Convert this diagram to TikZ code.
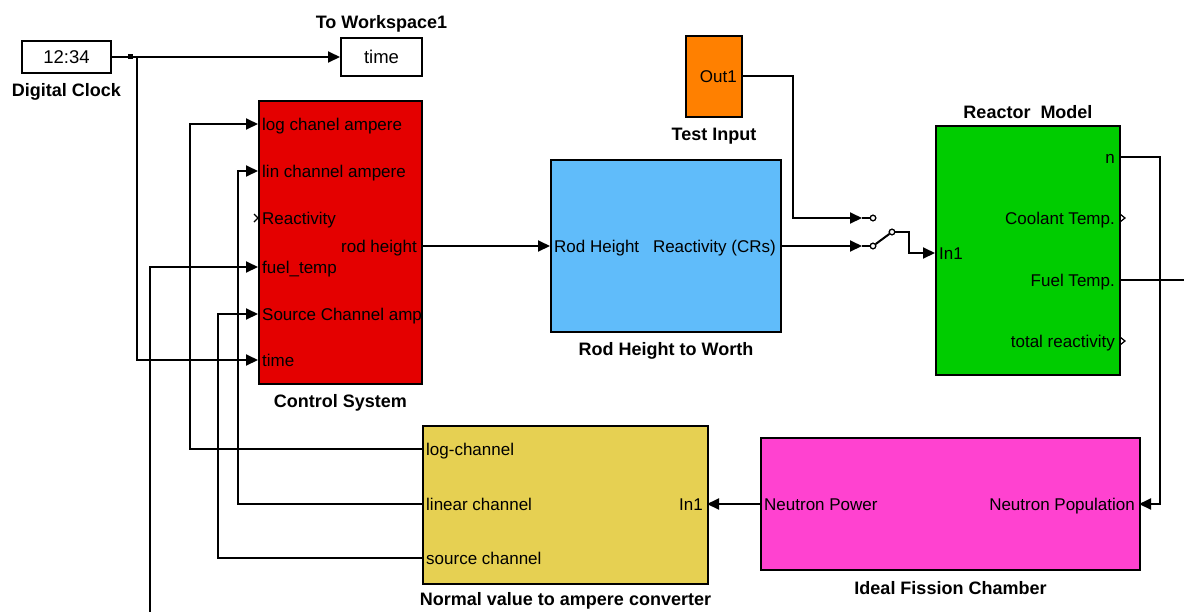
\documentclass[tikz,border=0pt]{standalone}
\usepackage{fontspec}
\setmainfont{Liberation Sans}
\usetikzlibrary{arrows.meta,positioning}

\definecolor{ctrlred}{RGB}{228,0,0}
\definecolor{inorange}{RGB}{255,128,0}
\definecolor{worthblue}{RGB}{96,188,250}
\definecolor{reacgreen}{RGB}{0,204,0}
\definecolor{convyellow}{RGB}{230,208,82}
\definecolor{chambpink}{RGB}{255,66,208}

\begin{document}
\begin{tikzpicture}[
    x=1pt, y=-1pt,
    block/.style={rectangle, draw, line width=2pt, anchor=north west, inner sep=0pt},
    port/.style={inner xsep=4pt, inner ysep=0pt, text height=12pt, text depth=0pt,
        font=\fontsize{17}{19}\selectfont},
    title/.style={anchor=base, inner sep=0pt, font=\fontsize{18}{20}\selectfont\bfseries},
    signal/.style={draw, line width=2pt, -{Triangle[length=12pt,width=11pt]}},
    wire/.style={draw, line width=2pt},
    openport/.style={draw, line width=1.2pt},
    contact/.style={circle, draw, fill=white, line width=1.2pt, inner sep=0pt, minimum size=5.5pt}
]
\useasboundingbox (0,0) rectangle (1184,611);
\clip (0,0) rectangle (1184,611);

% blocks
\node (Clock) [block, minimum width=89pt, minimum height=32pt,
    font=\fontsize{18.5}{20}\selectfont] at (21,40) {12:34};
\node (Workspace) [block, minimum width=81pt, minimum height=38pt,
    font=\fontsize{18.5}{20}\selectfont] at (340,37) {time};
\node (Control) [block, fill=ctrlred, minimum width=163pt, minimum height=283pt] at (258,100) {};
\node (RodWorth) [block, fill=worthblue, minimum width=230pt, minimum height=172pt] at (550,159) {};
\node (TestIn) [block, fill=inorange, minimum width=56pt, minimum height=81pt] at (685,35) {};
\node (Reactor) [block, fill=reacgreen, minimum width=184pt, minimum height=249pt] at (935,125) {};
\node (Converter) [block, fill=convyellow, minimum width=285pt, minimum height=158pt] at (422,425) {};
\node (Chamber) [block, fill=chambpink, minimum width=379pt, minimum height=132pt] at (760,437) {};

% block names
\node (ClockName) [title] at ([yshift=-22pt]Clock.south) {Digital Clock};
\node (WorkspaceName) [title] at ([yshift=9pt]Workspace.north) {To Workspace1};
\node (ControlName) [title] at ([yshift=-22pt]Control.south) {Control System};
\node (RodWorthName) [title] at ([yshift=-22pt]RodWorth.south) {Rod Height to Worth};
\node (TestInName) [title] at ([yshift=-22pt]TestIn.south) {Test Input};
\node (ReactorName) [title] at ([yshift=7pt]Reactor.north) {Reactor\ \ Model};
\node (ConverterName) [title] at ([yshift=-20pt]Converter.south) {Normal value to ampere converter};
\node (ChamberName) [title] at ([yshift=-23pt]Chamber.south) {Ideal Fission Chamber};

% ports
\node (ControlLog) [port, anchor=west] at (258,124) {log chanel ampere};
\node (ControlLin) [port, anchor=west] at (258,171) {lin channel ampere};
\node (ControlReact) [port, anchor=west] at (258,218) {Reactivity};
\node (ControlFuel) [port, anchor=west] at (258,267) {fuel\_temp};
\node (ControlSrc) [port, anchor=west] at (258,314) {Source Channel amp};
\node (ControlTime) [port, anchor=west] at (258,360) {time};
\node (ControlRod) [port, anchor=east] at (421,246) {rod height};

\node (RodIn) [port, anchor=west] at (550,246) {Rod Height};
\node (RodOut) [port, anchor=east] at (780,246) {Reactivity (CRs)};

\node (TestOut) [port, anchor=east] at (741,76) {Out1};

\node (ReactorIn) [port, anchor=west] at (935,253) {In1};
\node (ReactorN) [port, anchor=east] at (1119,157) {n};
\node (ReactorCool) [port, anchor=east] at (1119,218) {Coolant Temp.};
\node (ReactorFuel) [port, anchor=east] at (1119,280) {Fuel Temp.};
\node (ReactorRho) [port, anchor=east] at (1119,341) {total reactivity};

\node (ConvLog) [port, anchor=west] at (422,449) {log-channel};
\node (ConvLin) [port, anchor=west] at (422,504) {linear channel};
\node (ConvSrc) [port, anchor=west] at (422,558) {source channel};
\node (ConvIn) [port, anchor=east] at (707,504) {In1};

\node (ChamberPow) [port, anchor=west] at (760,504) {Neutron Power};
\node (ChamberPop) [port, anchor=east] at (1139,504) {Neutron Population};

% open ports
\draw[openport] (254,214) -- (258,218) -- (254,222);
\draw[openport] (1120,214) -- (1125,218) -- (1120,222);
\draw[openport] (1120,337) -- (1125,341) -- (1120,345);

% manual switch
\coordinate (SwitchUp) at (862,218);
\coordinate (SwitchLow) at (862,246);
\node (ContactUp) [contact] at (873,218) {};
\node (ContactLow) [contact] at (873,246) {};
\node (ContactPivot) [contact] at (892,232) {};

% signals
\draw[signal] (Clock.east) -- (Workspace.west);
\node (Tap) [fill, inner sep=0pt, minimum size=5pt] at (130,56) {};
\draw[signal] (137,56) |- (ControlTime.west);
\draw[signal] (ControlRod.east) -- (RodIn.west);
\draw[signal] (RodOut.east) -- (SwitchLow);
\draw[signal] (TestOut.east) -- (793,76) |- (SwitchUp);
\draw[wire] (SwitchUp) -- (ContactUp.west);
\draw[wire] (SwitchLow) -- (ContactLow.west);
\draw[wire] (ContactLow) -- (ContactPivot);
\draw[signal] (ContactPivot.east) -- (909,232) |- (ReactorIn.west);
\draw[signal] (ReactorN.east) -- (1160,157) |- (ChamberPop.east);
\draw[signal] (ReactorFuel.east) -- (1200,280) -- (1200,640) -- (150,640) |- (ControlFuel.west);
\draw[signal] (ChamberPow.west) -- (ConvIn.east);
\draw[signal] (ConvLog.west) -- (190,449) |- (ControlLog.west);
\draw[signal] (ConvLin.west) -- (238,504) |- (ControlLin.west);
\draw[signal] (ConvSrc.west) -- (218,558) |- (ControlSrc.west);

% redraw contacts on top of the wires
\node [contact] at (ContactUp) {};
\node [contact] at (ContactLow) {};
\node [contact] at (ContactPivot) {};

\end{tikzpicture}
\end{document}
